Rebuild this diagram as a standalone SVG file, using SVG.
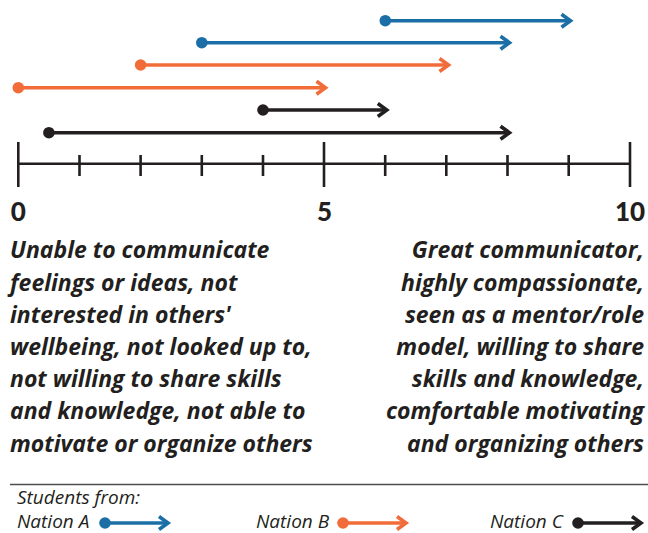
<svg xmlns="http://www.w3.org/2000/svg" width="648" height="533" viewBox="0 0 648 533">
  <style>
    .ln { fill: none; stroke-width: 3.6; stroke-linecap: butt; }
    .a { stroke: #1b6fa6; }
    .b { stroke: #f26c3a; }
    .c { stroke: #231f20; }
    .axis { stroke: #231f20; stroke-width: 2.6; fill: none; }
    .num { font-family: Lato, "Open Sans", sans-serif; font-weight: 900; font-size: 26px; fill: #231f20; text-anchor: middle; }
    .desc { font-family: "Open Sans", Lato, sans-serif; font-weight: bold; font-style: italic; font-size: 23px; fill: #231f20; }
    .leg { font-family: "Open Sans", Lato, sans-serif; font-style: italic; font-size: 19px; fill: #231f20; }
  </style>
  <defs>
    <marker id="dotA" markerUnits="userSpaceOnUse" viewBox="-7 -7 14 14" markerWidth="14" markerHeight="14" refX="0" refY="0" orient="auto"><circle r="5.8" fill="#1b6fa6"/></marker>
    <marker id="dotB" markerUnits="userSpaceOnUse" viewBox="-7 -7 14 14" markerWidth="14" markerHeight="14" refX="0" refY="0" orient="auto"><circle r="5.8" fill="#f26c3a"/></marker>
    <marker id="dotC" markerUnits="userSpaceOnUse" viewBox="-7 -7 14 14" markerWidth="14" markerHeight="14" refX="0" refY="0" orient="auto"><circle r="5.8" fill="#231f20"/></marker>
    <marker id="arrA" markerUnits="userSpaceOnUse" viewBox="-14 -10 20 20" markerWidth="20" markerHeight="20" refX="0" refY="0" orient="auto"><path d="M-9,-6.5 L0,0 L-9,6.5" fill="none" stroke="#1b6fa6" stroke-width="3.6" stroke-linejoin="miter"/></marker>
    <marker id="arrB" markerUnits="userSpaceOnUse" viewBox="-14 -10 20 20" markerWidth="20" markerHeight="20" refX="0" refY="0" orient="auto"><path d="M-9,-6.5 L0,0 L-9,6.5" fill="none" stroke="#f26c3a" stroke-width="3.6" stroke-linejoin="miter"/></marker>
    <marker id="arrC" markerUnits="userSpaceOnUse" viewBox="-14 -10 20 20" markerWidth="20" markerHeight="20" refX="0" refY="0" orient="auto"><path d="M-9,-6.5 L0,0 L-9,6.5" fill="none" stroke="#231f20" stroke-width="3.6" stroke-linejoin="miter"/></marker>
  </defs>

  <g id="connectors">
    <path class="ln a" d="M385.3,20.7 H570.5" marker-start="url(#dotA)" marker-end="url(#arrA)"/>
    <path class="ln a" d="M201.8,42.7 H509.5" marker-start="url(#dotA)" marker-end="url(#arrA)"/>
    <path class="ln b" d="M140.6,65 H448.5" marker-start="url(#dotB)" marker-end="url(#arrB)"/>
    <path class="ln b" d="M18.3,87.7 H325.5" marker-start="url(#dotB)" marker-end="url(#arrB)"/>
    <path class="ln c" d="M263,110 H386.8" marker-start="url(#dotC)" marker-end="url(#arrC)"/>
    <path class="ln c" d="M48.9,132.7 H509.5" marker-start="url(#dotC)" marker-end="url(#arrC)"/>
  </g>

  <g id="axis">
    <path class="axis" d="M18.3,163.7 H630"/>
    <path class="axis" d="M18.3,142 V187 M324,142 V187 M630,142 V187"/>
    <path class="axis" d="M79.5,155 V176 M140.6,155 V176 M201.8,155 V176 M263,155 V176 M385.2,155 V176 M446.3,155 V176 M507.5,155 V176 M568.7,155 V176"/>
    <text class="num" x="18.3" y="220.5">0</text>
    <text class="num" x="324.5" y="220.5">5</text>
    <text class="num" x="630" y="220.5">10</text>
  </g>

  <g id="low-label">
    <text class="desc" x="10" y="258.3">Unable to communicate</text>
    <text class="desc" x="10" y="290.5">feelings or ideas, not</text>
    <text class="desc" x="10" y="322.7">interested in others'</text>
    <text class="desc" x="10" y="354.9">wellbeing, not looked up to,</text>
    <text class="desc" x="10" y="387.1">not willing to share skills</text>
    <text class="desc" x="10" y="419.3">and knowledge, not able to</text>
    <text class="desc" x="10" y="451.5">motivate or organize others</text>
  </g>

  <g id="high-label" text-anchor="end">
    <text class="desc" x="644" y="258.3">Great communicator,</text>
    <text class="desc" x="644" y="290.5">highly compassionate,</text>
    <text class="desc" x="644" y="322.7">seen as a mentor/role</text>
    <text class="desc" x="644" y="354.9">model, willing to share</text>
    <text class="desc" x="644" y="387.1">skills and knowledge,</text>
    <text class="desc" x="644" y="419.3">comfortable motivating</text>
    <text class="desc" x="644" y="451.5">and organizing others</text>
  </g>

  <g id="legend">
    <path d="M10,484.5 H648" stroke="#4d4d4f" stroke-width="1.6" fill="none"/>
    <text class="leg" x="17" y="504">Students from:</text>
    <g id="legend-a">
      <text class="leg" x="17" y="527.5">Nation A</text>
      <path class="ln a" d="M105,523 H168" stroke-width="3.2" marker-start="url(#dotA)" marker-end="url(#arrA)"/>
    </g>
    <g id="legend-b">
      <text class="leg" x="256" y="527.5">Nation B</text>
      <path class="ln b" d="M343,523 H406" stroke-width="3.2" marker-start="url(#dotB)" marker-end="url(#arrB)"/>
    </g>
    <g id="legend-c">
      <text class="leg" x="490" y="527.5">Nation C</text>
      <path class="ln c" d="M578,523 H641" stroke-width="3.2" marker-start="url(#dotC)" marker-end="url(#arrC)"/>
    </g>
  </g>
</svg>
